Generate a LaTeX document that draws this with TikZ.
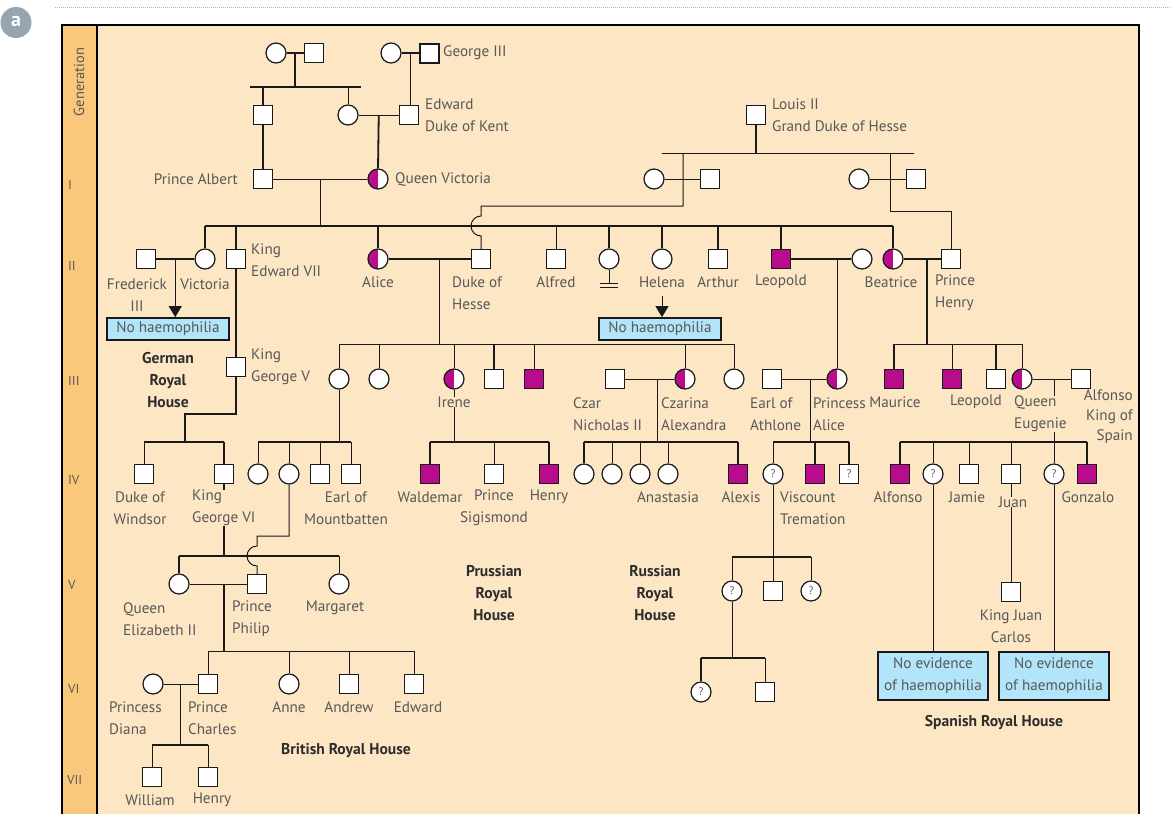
\documentclass[tikz,border=0pt]{standalone}
\usepackage{fontspec}
\setmainfont{PT Sans}
\usetikzlibrary{arrows.meta,calc}
\definecolor{peach}{RGB}{252,230,196}
\definecolor{orng}{RGB}{249,200,122}
\definecolor{mag}{RGB}{184,12,140}
\definecolor{boxblue}{RGB}{178,228,250}
\definecolor{txt}{RGB}{88,88,88}
\definecolor{dtxt}{RGB}{45,45,45}
\definecolor{agray}{RGB}{150,165,175}
\newcommand\myLab{\fontsize{15.2}{22}\selectfont}
\newcommand\myBold{\fontsize{15.6}{22}\selectfont\bfseries}
\tikzset{
  sym/.style={draw=black!90, fill=white, inner sep=0pt, line width=1.2pt},
  m/.style={sym, rectangle, minimum size=19pt},
  ma/.style={m, fill=mag},
  f/.style={sym, circle, minimum size=20pt},
  fc/.style={f, path picture={\fill[mag] (path picture bounding box.south west) rectangle (path picture bounding box.north);}},
  qf/.style={f, text=txt, font=\fontsize{11}{11}\selectfont},
  qm/.style={m, text=txt, font=\fontsize{11}{11}\selectfont},
  lab/.style={text=txt, font=\myLab, inner sep=0pt, align=center},
  labl/.style={lab, align=left, anchor=west},
  bld/.style={text=dtxt, font=\myBold, inner sep=0pt, align=center},
  thk/.style={line width=1.8pt, draw=black!90},
  thn/.style={line width=1pt, draw=black!90},
  nobox/.style={draw=black!90, line width=1.8pt, fill=boxblue, text=txt, font=\myLab, minimum width=122pt, minimum height=22pt, inner sep=0pt},
  nebox/.style={draw=black!90, line width=1.6pt, fill=boxblue, text=txt, font=\myLab, minimum width=110pt, minimum height=48pt, inner sep=0pt, align=center},
  gen/.style={text=txt, font=\fontsize{13}{13}\selectfont, anchor=west, inner sep=0pt},
  arr/.style={thn, -{Triangle[width=13pt,length=11pt]}},
}
\begin{document}
\begin{tikzpicture}[x=1pt,y=-1pt]
\useasboundingbox (0,0) rectangle (1170,814);
\fill[white] (0,0) rectangle (1170,814);
% header
\draw[agray!80, line width=0.8pt, dash pattern=on 1pt off 1pt] (55,7) -- (1170,7);
\fill[agray] (16,22.5) circle[radius=15.5pt];
\node[text=white, font=\fontsize{20}{20}\selectfont\bfseries] (alabel) at (16,21) {a};
% panel
\fill[peach] (62,25) rectangle (1139,814);
\fill[orng] (62,25) rectangle (97,814);
\draw[line width=1.2pt] (97,25) -- (97,814);
\draw[line width=2pt] (62,814) -- (62,25) -- (1139,25) -- (1139,814);
\node[text=txt, font=\fontsize{14.5}{14.5}\selectfont, rotate=90] (gentitle) at (79,82) {Generation};
\node[gen] (gI) at (68,185) {I};
\node[gen] (gII) at (68,266) {II};
\node[gen] (gIII) at (68,381) {III};
\node[gen] (gIV) at (68,480) {IV};
\node[gen] (gV) at (68,585) {V};
\node[gen] (gVI) at (68,689) {VI};
\node[gen] (gVII) at (67,780) {VII};

% y-levels
\coordinate (s87) at (0,87);
\coordinate (s153) at (0,153);
\coordinate (s226) at (0,226);
\coordinate (s344) at (0,344);
\coordinate (s442) at (0,442);
\coordinate (s556) at (0,556);
\coordinate (s557) at (0,557);
\coordinate (s651) at (0,651);
\coordinate (s658) at (0,658);
\coordinate (s745) at (0,745);

% ===== Generation 0 / I =====
\node[f] (gm1) at (276,53) {};
\node[m] (gf1) at (314,53) {};
\node[f] (gm2) at (391,53) {};
\node[m, line width=2pt] (g3) at (429,53) {};
\node[m] (pa0) at (263,115) {};
\node[f] (vm) at (348,115) {};
\node[m] (edk) at (409,115) {};
\node[m] (alb) at (263,179) {};
\node[fc] (qv) at (378,179) {};
\coordinate (s0l) at (250,87);
\coordinate (s0r) at (361,87);
\draw[thk] (gm1) -- coordinate (mm1) (gf1);
\draw[thk] (mm1) -- (mm1 |- s87);
\draw[thk] (s0l) -- (s0r);
\draw[thk] (pa0.north |- s87) -- (pa0.north);
\draw[thn] (vm.north |- s87) -- (vm.north);
\draw[thk] (gm2) -- coordinate (mm2) (g3);
\draw[thn] (mm2) -- (mm2 |- edk.north);
\draw[thn] (vm) -- coordinate (mm3) (edk);
\draw[thk] (mm3) -- (qv.north);
\draw[thk] (pa0) -- (alb);
\draw[thn] (alb) -- coordinate (mm4) (qv);
\draw[thn] (mm4) -- (mm4 |- s226);
\node[lab, anchor=west] (l-g3) at (443,53) {George III};
\node[labl] (l-edk) at (425,115) {Edward\\Duke of Kent};
\node[lab, anchor=east] (l-alb) at (238,179) {Prince Albert};
\node[lab, anchor=west] (l-qv) at (395,179) {Queen Victoria};

% Hesse grandparents
\node[m] (lou) at (756,115) {};
\node[labl] (l-lou) at (772,115) {Louis II\\Grand Duke of Hesse};
\coordinate (h0l) at (662,153);
\coordinate (h0r) at (914,153);
\draw[thk] (lou.south) -- (lou.south |- s153);
\draw[thn] (h0l) -- (h0r);
\node[f] (hw1) at (654,179) {};
\node[m] (hm1) at (710,179) {};
\node[f] (hw2) at (859,179) {};
\node[m] (hm2) at (916,179) {};
\draw[thn] (hw1) -- (hm1);
\draw[thn] (hw2) -- (hm2);

% ===== Generation II =====
\node[m] (fr3) at (146,259) {};
\node[f] (vic2) at (205,259) {};
\node[m] (e7) at (236,259) {};
\node[fc] (ali) at (378,259) {};
\node[m] (dh) at (481,259) {};
\node[m] (alf) at (556,259) {};
\node[f] (c609) at (609,259) {};
\node[f] (hel) at (662,259) {};
\node[m] (art) at (718,259) {};
\node[ma] (leo) at (781,259) {};
\node[f] (leow) at (862,259) {};
\node[fc] (bea) at (893,259) {};
\node[m] (ph) at (951,259) {};

\draw[thk] (vic2.north |- s226) -- (bea.north |- s226);
\draw[thk] (vic2.north |- s226) -- (vic2.north);
\draw[thk] (e7.north |- s226) -- (e7.north);
\draw[thk] (ali.north |- s226) -- (ali.north);
\draw[thn] (alf.north |- s226) -- (alf.north);
\draw[thk] (c609.north |- s226) -- (c609.north);
\draw[thk] (hel.north |- s226) -- (hel.north);
\draw[thk] (art.north |- s226) -- (art.north);
\draw[thk] (leo.north |- s226) -- (leo.north);
\draw[thk] (bea.north |- s226) -- (bea.north);

% Duke of Hesse link with hop
\coordinate (hb) at (481,236);
\coordinate (hk) at (683,206);
\draw[thn] (dh.north) -- (hb) arc[start angle=270, end angle=90, radius=10pt] |- (hk) -- (hk |- s153);
% Prince Henry link
\coordinate (phk) at (890,211);
\draw[thn] (ph.north) |- (phk) -- (phk |- s153);

% no offspring mark
\coordinate (nob) at (609,283);
\draw[thn] (c609.south) -- (nob);
\draw[thn] ($(nob)+(-9,0)$) -- ($(nob)+(9,0)$);
\draw[thn] ($(nob)+(-9,4.5)$) -- ($(nob)+(9,4.5)$);

\draw[thk] (fr3) -- coordinate (mm5) (vic2);
\draw[thk] (ali) -- coordinate[pos=0.62] (mm6) (dh);
\draw[thk] (leo) -- coordinate[pos=0.77] (mm7) (leow);
\draw[thk] (bea) -- coordinate[pos=0.62] (mm8) (ph);

\node[nobox] (nh1) at (168,329) {No haemophilia};
\node[nobox] (nh2) at (660,329) {No haemophilia};
\draw[arr] (mm5) -- (mm5 |- nh1.north);
\coordinate (hs) at (662,296);
\draw[arr] (hs) -- (hs |- nh2.north);

\node[lab] (l-fr3) at (137,295) {Frederick\\III};
\node[lab] (l-vic2) at (205,284) {Victoria};
\node[labl] (l-e7) at (251,260) {King\\Edward VII};
\node[lab] (l-ali) at (378,282) {Alice};
\node[labl] (l-dh) at (452,293) {Duke of\\Hesse};
\node[lab] (l-alf) at (556,282) {Alfred};
\node[lab] (l-hel) at (662,282) {Helena};
\node[lab] (l-art) at (718,282) {Arthur};
\node[lab] (l-leo) at (781,282) {Leopold};
\node[lab] (l-bea) at (891,282) {Beatrice};
\node[labl] (l-ph) at (935,293) {Prince\\Henry};

% ===== Generation III =====
% German / British line
\node[m] (g5) at (236,367) {};
\draw[thk] (e7) -- (g5);
\coordinate (gk) at (185,414);
\draw[thk] (g5.south) |- (gk) -- (gk |- s442);
\node[labl] (l-g5) at (251,367) {King\\George V};
\node[bld] (l-ger) at (168,380) {German\\Royal\\House};

% Alice's children
\node[f] (a1) at (339,379) {};
\node[f] (a2) at (379,379) {};
\node[fc] (ire) at (454,379) {};
\node[m] (a4) at (494,379) {};
\node[ma] (a5) at (534,379) {};
\node[m] (czr) at (615,379) {};
\node[fc] (cza) at (685,379) {};
\node[f] (a7) at (734,379) {};
\draw[thn] (mm6) -- (mm6 |- s344);
\draw[thn] (a1.north |- s344) -- (a7.north |- s344);
\draw[thn] (a1.north |- s344) -- (a1.north);
\draw[thn] (a2.north |- s344) -- (a2.north);
\draw[thn] (ire.north |- s344) -- (ire.north);
\draw[thk] (a4.north |- s344) -- (a4.north);
\draw[thn] (a5.north |- s344) -- (a5.north);
\draw[thn] (cza.north |- s344) -- (cza.north);
\draw[thn] (a7.north |- s344) -- (a7.north);
\draw[thn] (czr) -- coordinate[pos=0.66] (mm9) (cza);

% Leopold's daughter
\node[m] (ath) at (772,379) {};
\node[fc] (pal) at (837,379) {};
\draw[thn] (mm7) -- (mm7 |- pal.north);
\draw[thn] (ath) -- coordinate[pos=0.63] (mm10) (pal);

% Beatrice's children
\node[ma] (mau) at (894,379) {};
\node[ma] (leo2) at (952,379) {};
\node[m] (b3) at (996,379) {};
\node[fc] (eug) at (1022,379) {};
\node[m] (alk) at (1081,379) {};
\draw[thk] (mm8) -- (mm8 |- s344);
\draw[thn] (mau.north |- s344) -- (eug.north |- s344);
\draw[thk] (mau.north |- s344) -- (mau.north);
\draw[thn] (leo2.north |- s344) -- (leo2.north);
\draw[thk] (b3.north |- s344) -- (b3.north);
\draw[thn] (eug.north |- s344) -- (eug.north);
\draw[thn] (eug) -- coordinate[pos=0.56] (mm11) (alk);

% ===== Generation IV =====
\node[m] (dw) at (144,474) {};
\node[m] (g6) at (224,474) {};
\draw[thk] (dw.north |- s442) -- (g6.north |- s442);
\draw[thn] (dw.north |- s442) -- (dw.north);
\draw[thk] (g6.north |- s442) -- (g6.north);

\node[f] (b1) at (258,474) {};
\node[f] (b2) at (289,474) {};
\node[m] (b3x) at (320,474) {};
\node[m] (mtb) at (351,474) {};
\draw[thn] (a1.south) -- (a1.south |- s442);
\draw[thk] (b1.north |- s442) -- (mtb.north |- s442);
\draw[thn] (b1.north |- s442) -- (b1.north);
\draw[thn] (b2.north |- s442) -- (b2.north);
\draw[thn] (b3x.north |- s442) -- (b3x.north);
\draw[thn] (mtb.north |- s442) -- (mtb.north);

\node[ma] (wal) at (430,474) {};
\node[m] (sig) at (494,474) {};
\node[ma] (hen) at (549,474) {};
\draw[thn] (ire.south) -- (ire.south |- s442);
\draw[thk] (wal.north |- s442) -- (hen.north |- s442);
\draw[thk] (wal.north |- s442) -- (wal.north);
\draw[thn] (sig.north |- s442) -- (sig.north);
\draw[thk] (hen.north |- s442) -- (hen.north);

\node[f] (r1) at (584,474) {};
\node[f] (r2) at (612,474) {};
\node[f] (r3) at (640,474) {};
\node[f] (ana) at (668,474) {};
\node[ma] (alx) at (738,474) {};
\draw[thn] (mm9) -- (mm9 |- s442);
\draw[thk] (r1.north |- s442) -- (alx.north |- s442);
\draw[thk] (r1.north |- s442) -- (r1.north);
\draw[thn] (r2.north |- s442) -- (r2.north);
\draw[thn] (r3.north |- s442) -- (r3.north);
\draw[thn] (ana.north |- s442) -- (ana.north);
\draw[thk] (alx.north |- s442) -- (alx.north);

\node[qf] (t1) at (773,474) {?};
\node[ma] (vt) at (815,474) {};
\node[qm] (t3) at (849,474) {?};
\draw[thn] (mm10) -- (mm10 |- s442);
\draw[thk] (t1.north |- s442) -- (t3.north |- s442);
\draw[thn] (t1.north |- s442) -- (t1.north);
\draw[thk] (vt.north |- s442) -- (vt.north);
\draw[thk] (t3.north |- s442) -- (t3.north);

\node[ma] (sa1) at (900,474) {};
\node[qf] (sq1) at (933,474) {?};
\node[m] (jam) at (969,474) {};
\node[m] (jua) at (1011,474) {};
\node[qf] (sq2) at (1054,474) {?};
\node[ma] (gon) at (1087,474) {};
\draw[thn] (mm11) -- (mm11 |- s442);
\draw[thk] (sa1.north |- s442) -- (gon.north |- s442);
\draw[thk] (sa1.north |- s442) -- (sa1.north);
\draw[thn] (sq1.north |- s442) -- (sq1.north);
\draw[thn] (jam.north |- s442) -- (jam.north);
\draw[thn] (jua.north |- s442) -- (jua.north);
\draw[thn] (sq2.north |- s442) -- (sq2.north);
\draw[thk] (gon.north |- s442) -- (gon.north);

% Gen III labels (after lines for knock-outs)
\node[lab, fill=peach] (l-ire) at (454,402) {Irene};
\node[labl] (l-czr) at (573,414) {Czar\\Nicholas II};
\node[labl] (l-cza) at (661,414) {Czarina\\Alexandra};
\node[labl] (l-ath) at (750,414) {Earl of\\Athlone};
\node[labl] (l-pal) at (813,414) {Princess\\Alice};
\node[lab] (l-mau) at (895,402) {Maurice};
\node[lab] (l-leo2) at (976,402) {Leopold};
\node[labl, fill=peach] (l-eug) at (1014,414) {Queen\\Eugenie};
\node[lab, anchor=east, align=right, font=\fontsize{15.2}{20}\selectfont] (l-alk) at (1133,417) {Alfonso\\King of\\Spain};

% ===== Generation V (British) =====
\node[f] (qe) at (179,584) {};
\node[m] (pp) at (257,584) {};
\node[f] (mar) at (339,584) {};
\draw[thk] (g6.south) -- (g6.south |- s556);
\draw[thk] (qe.north |- s556) -- (mar.north |- s556);
\draw[thk] (qe.north |- s556) -- (qe.north);
\draw[thn] (mar.north |- s556) -- (mar.north);
\coordinate (pk) at (257,536);
\coordinate (pt) at (257,546);
\draw[thn] (b2.south) |- (pk) -- (pt) arc[start angle=90, end angle=270, radius=10pt] -- (pp.north);
\draw[thn] (qe) -- coordinate[pos=0.6] (mm12) (pp);
\draw[thk] (mm12) -- (mm12 |- s651);

% ===== Generation VI (British) =====
\node[f] (di) at (153,684) {};
\node[m] (pc) at (208,684) {};
\node[f] (ann) at (289,684) {};
\node[m] (and) at (349,684) {};
\node[m] (edw) at (414,684) {};
\draw[thn] (pc.north |- s651) -- (edw.north |- s651);
\draw[thn] (pc.north |- s651) -- (pc.north);
\draw[thn] (ann.north |- s651) -- (ann.north);
\draw[thn] (and.north |- s651) -- (and.north);
\draw[thn] (edw.north |- s651) -- (edw.north);
\draw[thn] (di) -- coordinate (mm13) (pc);
\draw[thn] (mm13) -- (mm13 |- s745);

% ===== Generation VII =====
\node[m] (wil) at (152,777) {};
\node[m] (hry) at (208,777) {};
\draw[thk] (wil.north |- s745) -- (hry.north |- s745);
\draw[thn] (wil.north |- s745) -- (wil.north);
\draw[thn] (hry.north |- s745) -- (hry.north);

% ===== Trematon descendants =====
\node[qf] (u1) at (732,591) {?};
\node[m] (u2) at (773,591) {};
\node[qf] (u3) at (811,591) {?};
\draw[thn] (t1.south) -- (t1.south |- s557);
\draw[thk] (u1.north |- s557) -- (u3.north |- s557);
\draw[thn] (u1.north |- s557) -- (u1.north);
\draw[thn] (u2.north |- s557) -- (u2.north);
\draw[thn] (u3.north |- s557) -- (u3.north);
\node[qf] (v1) at (701,692) {?};
\node[m] (v2) at (765,692) {};
\draw[thn] (u1.south) -- (u1.south |- s658);
\draw[thk] (v1.north |- s658) -- (v2.north |- s658);
\draw[thk] (v1.north |- s658) -- (v1.north);
\draw[thn] (v2.north |- s658) -- (v2.north);

% ===== Spanish descendants =====
\node[m] (jc) at (1011,592) {};
\draw[thn] (jua) -- (jc);
\node[nebox] (ne1) at (933,676) {No evidence\\of haemophilia};
\node[nebox] (ne2) at (1054,676) {No evidence\\of haemophilia};
\draw[thn] (sq1) -- (ne1);
\draw[thn] (sq2) -- (ne2);

% Gen IV+ labels
\node[lab] (l-dw) at (140,508) {Duke of\\Windsor};
\node[labl, fill=peach] (l-g6) at (192,508) {King\\George VI};
\node[lab] (l-mtb) at (346,508) {Earl of\\Mountbatten};
\node[lab] (l-wal) at (430,497) {Waldemar};
\node[lab] (l-sig) at (494,508) {Prince\\Sigismond};
\node[lab] (l-hen) at (549,497) {Henry};
\node[lab] (l-ana) at (668,497) {Anastasia};
\node[lab] (l-alx) at (741,497) {Alexis};
\node[labl] (l-vt) at (780,508) {Viscount\\Tremation};
\node[lab] (l-sa1) at (898,497) {Alfonso};
\node[lab] (l-jam) at (967,497) {Jamie};
\node[lab, fill=peach] (l-jua) at (1013,502) {Juan};
\node[lab] (l-gon) at (1088,497) {Gonzalo};
\node[labl] (l-qe) at (123,619) {Queen\\Elizabeth II};
\node[labl] (l-pp) at (232,619) {Prince\\Philip};
\node[lab] (l-mar) at (335,608) {Margaret};
\node[lab] (l-jc) at (1011,626) {King Juan\\Carlos};
\node[labl] (l-di) at (109,718) {Princess\\Diana};
\node[labl] (l-pc) at (188,718) {Prince\\Charles};
\node[lab] (l-ann) at (289,707) {Anne};
\node[lab] (l-and) at (349,707) {Andrew};
\node[lab] (l-edw) at (418,707) {Edward};
\node[lab] (l-wil) at (150,800) {William};
\node[lab] (l-hry) at (212,800) {Henry};

% House titles
\node[bld] (h-pru) at (494,593) {Prussian\\Royal\\House};
\node[bld] (h-rus) at (655,593) {Russian\\Royal\\House};
\node[bld] (h-bri) at (346,751) {British Royal House};
\node[bld] (h-spa) at (994,723) {Spanish Royal House};
\end{tikzpicture}
\end{document}
